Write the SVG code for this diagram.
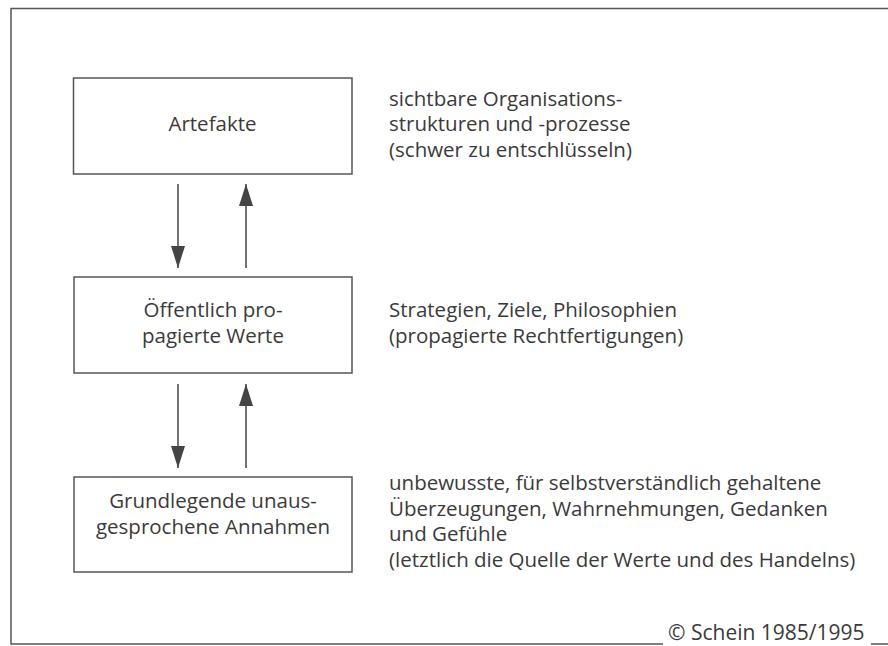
<svg xmlns="http://www.w3.org/2000/svg" width="888" height="646" viewBox="0 0 888 646">
<defs>
<style>
.frame{fill:none;stroke:#555;stroke-width:1.5}
.box{fill:#fff;stroke:#555;stroke-width:1.5}
.conn{stroke:#444;stroke-width:1.5;fill:none}
text{font-family:"Open Sans","Liberation Sans",sans-serif;font-size:20.5px;fill:#3a3a3a}
.c{text-anchor:middle}
</style>
<marker id="ah" markerUnits="userSpaceOnUse" markerWidth="22" markerHeight="14" viewBox="0 0 22 14" refX="22" refY="7" orient="auto">
<path d="M0,0 L22,7 L0,14 Z" fill="#444"/>
</marker>
</defs>
<rect width="888" height="646" fill="#fff"/>
<g id="frame">
<path class="frame" d="M888,8.5 H11 V644 H663 M871,644 H888"/>
<text x="668" y="640" style="font-size:21px">© Schein 1985/1995</text>
</g>
<g id="artefakte">
<rect class="box" x="73.5" y="78" width="278.5" height="96"/>
<text class="c" x="212.5" y="131">Artefakte</text>
</g>
<g id="artefakte-desc">
<text x="389" y="105.7">sichtbare Organisations-</text>
<text x="389" y="131.3">strukturen und -prozesse</text>
<text x="389" y="156.8">(schwer zu entschlüsseln)</text>
</g>
<g id="werte">
<rect class="box" x="74" y="277" width="278" height="96"/>
<text class="c" x="213" y="317">Öffentlich pro-</text>
<text class="c" x="213" y="342.5">pagierte Werte</text>
</g>
<g id="werte-desc">
<text x="389" y="317">Strategien, Ziele, Philosophien</text>
<text x="389" y="342.5">(propagierte Rechtfertigungen)</text>
</g>
<g id="annahmen">
<rect class="box" x="74" y="477" width="278" height="95"/>
<text class="c" x="213" y="508">Grundlegende unaus-</text>
<text class="c" x="213" y="533.5">gesprochene Annahmen</text>
</g>
<g id="annahmen-desc">
<text x="389" y="490">unbewusste, für selbstverständlich gehaltene</text>
<text x="389" y="515.5">Überzeugungen, Wahrnehmungen, Gedanken</text>
<text x="389" y="541">und Gefühle</text>
<text x="389" y="566.5">(letztlich die Quelle der Werte und des Handelns)</text>
</g>
<g id="connectors">
<line class="conn" x1="178" y1="184" x2="178" y2="268" marker-end="url(#ah)"/>
<line class="conn" x1="246" y1="268" x2="246" y2="184" marker-end="url(#ah)"/>
<line class="conn" x1="178" y1="384" x2="178" y2="468" marker-end="url(#ah)"/>
<line class="conn" x1="246" y1="468" x2="246" y2="384" marker-end="url(#ah)"/>
</g>
</svg>
